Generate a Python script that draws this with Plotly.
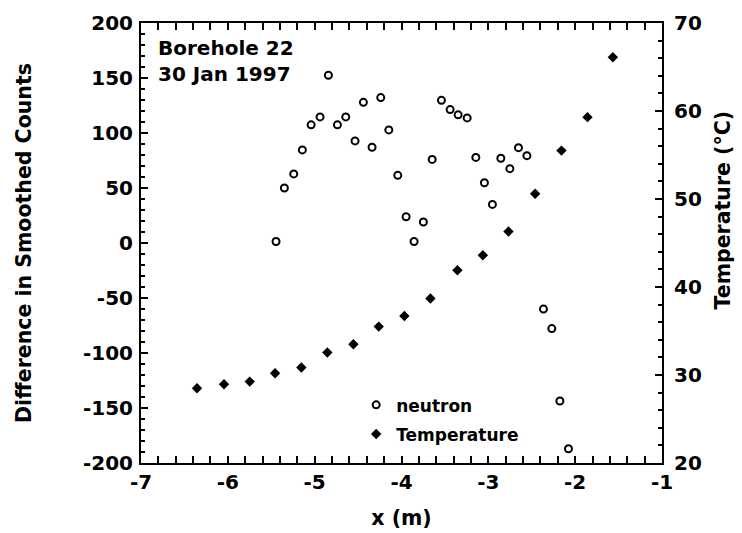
import plotly.graph_objects as go

# ---- data ----
neutron_x = [-5.445, -5.349, -5.241, -5.142, -5.041, -4.938, -4.842, -4.738, -4.642, -4.535,
             -4.439, -4.339, -4.239, -4.146, -4.043, -3.947, -3.855, -3.748, -3.647, -3.540,
             -3.440, -3.348, -3.244, -3.144, -3.045, -2.953, -2.856, -2.752, -2.653, -2.556,
             -2.365, -2.269, -2.176, -2.077]
neutron_y = [1.4, 50.0, 62.8, 84.6, 107.4, 114.6, 152.5, 107.4, 114.6, 92.8,
             127.9, 87.0, 132.2, 102.8, 61.5, 23.9, 1.4, 19.1, 76.0, 129.7,
             121.3, 116.5, 113.7, 77.8, 54.8, 35.1, 77.0, 67.6, 86.7, 79.4,
             -60.1, -77.8, -143.6, -187.0]

temp_x = [-6.355, -6.044, -5.748, -5.456, -5.153, -4.854, -4.554, -4.262, -3.967,
          -3.667, -3.356, -3.063, -2.768, -2.461, -2.158, -1.858, -1.566]
temp_y = [28.5, 28.95, 29.25, 30.2, 30.85, 32.55, 33.5, 35.5, 36.7,
          38.7, 41.9, 43.6, 46.3, 50.6, 55.5, 59.3, 66.1]

x_ticks = [-7, -6, -5, -4, -3, -2, -1]
x_ticktext = ["-7", "-6", "-5", "-4", "-3", "-2", "-1"]
y_ticks = [200, 150, 100, 50, 0, -50, -100, -150, -200]
y_ticktext = ["200", "150", "100", "50", "0", "-50", "-100", "-150", "-200"]
t_ticks = [70, 60, 50, 40, 30, 20]
t_ticktext = ["70", "60", "50", "40", "30", "20"]

FONT = "DejaVu Sans"

# minor tick positions (axis styling)
x_minor = [round(-7 + 0.2 * i, 1) for i in range(31)]
y_minor = [-200 + 10 * i for i in range(41)]
t_minor = [20 + 2 * i for i in range(26)]

fig = go.Figure()
fig.add_trace(go.Scatter(
    x=neutron_x, y=neutron_y, mode="markers", name="neutron",
    legendgroup="a",
    marker=dict(symbol="circle-open", size=7, color="black", line=dict(width=2, color="black")),
))
fig.add_trace(go.Scatter(
    x=temp_x, y=temp_y, mode="markers", name="Temperature", yaxis="y2",
    legendgroup="b",
    marker=dict(symbol="diamond", size=8, color="black"),
))

tickfont = dict(family=FONT, size=20, color="black", weight="bold")
titlefont = dict(family=FONT, size=20.5, color="black", weight="bold")

def minor(vals):
    return dict(tickmode="array", tickvals=vals, ticks="inside", ticklen=4,
                tickwidth=1.5, tickcolor="black")

fig.update_layout(
    width=742, height=533,
    margin=dict(l=141, r=80, t=23, b=70),
    paper_bgcolor="white", plot_bgcolor="white",
    font=dict(family=FONT, color="black", weight="bold"),
    showlegend=True,
    legend=dict(x=0.413, y=0.172, xanchor="left", yanchor="top",
                bgcolor="rgba(0,0,0,0)", font=dict(family=FONT, size=17, color="black", weight="bold"),
                tracegroupgap=4, traceorder="grouped", itemwidth=30),
    xaxis=dict(
        range=[-7, -1], tickmode="array", tickvals=x_ticks, ticktext=x_ticktext,
        automargin=False,
        showgrid=False, zeroline=False, showline=True, linewidth=2, linecolor="black",
        mirror="allticks", ticks="inside", ticklen=7, tickwidth=1.5, tickcolor="black",
        minor=minor(x_minor),
        tickfont=tickfont,
        title=dict(text="x (m)", font=titlefont, standoff=18),
    ),
    yaxis=dict(
        range=[-200, 200], tickmode="array", tickvals=y_ticks, ticktext=y_ticktext,
        automargin=False,
        showgrid=False, zeroline=False, showline=True, linewidth=2, linecolor="black",
        mirror=False, ticks="inside", ticklen=7, tickwidth=1.5, tickcolor="black",
        minor=minor(y_minor),
        tickfont=tickfont, ticklabelstandoff=2,
        title=dict(text="Difference in Smoothed Counts", font=titlefont, standoff=46),
    ),
    yaxis2=dict(
        range=[20, 70], tickmode="array", tickvals=t_ticks, ticktext=t_ticktext,
        overlaying="y", side="right", automargin=False,
        showgrid=False, zeroline=False, showline=True, linewidth=2, linecolor="black",
        ticks="inside", ticklen=7, tickwidth=1.5, tickcolor="black",
        minor=minor(t_minor),
        tickfont=tickfont, ticklabelstandoff=6,
    ),
    annotations=[
        dict(text="Borehole 22<br>30 Jan 1997", xref="paper", yref="paper",
             x=0.028, y=0.975, xanchor="left", yanchor="top", align="left", showarrow=False,
             font=dict(family=FONT, size=20, color="black", weight="bold")),
        dict(text="Temperature (°C)", xref="paper", yref="paper",
             x=1.117, y=0.576, xanchor="center", yanchor="middle", textangle=-90,
             showarrow=False, font=titlefont),
    ],
)

fig.write_html("out.html")
